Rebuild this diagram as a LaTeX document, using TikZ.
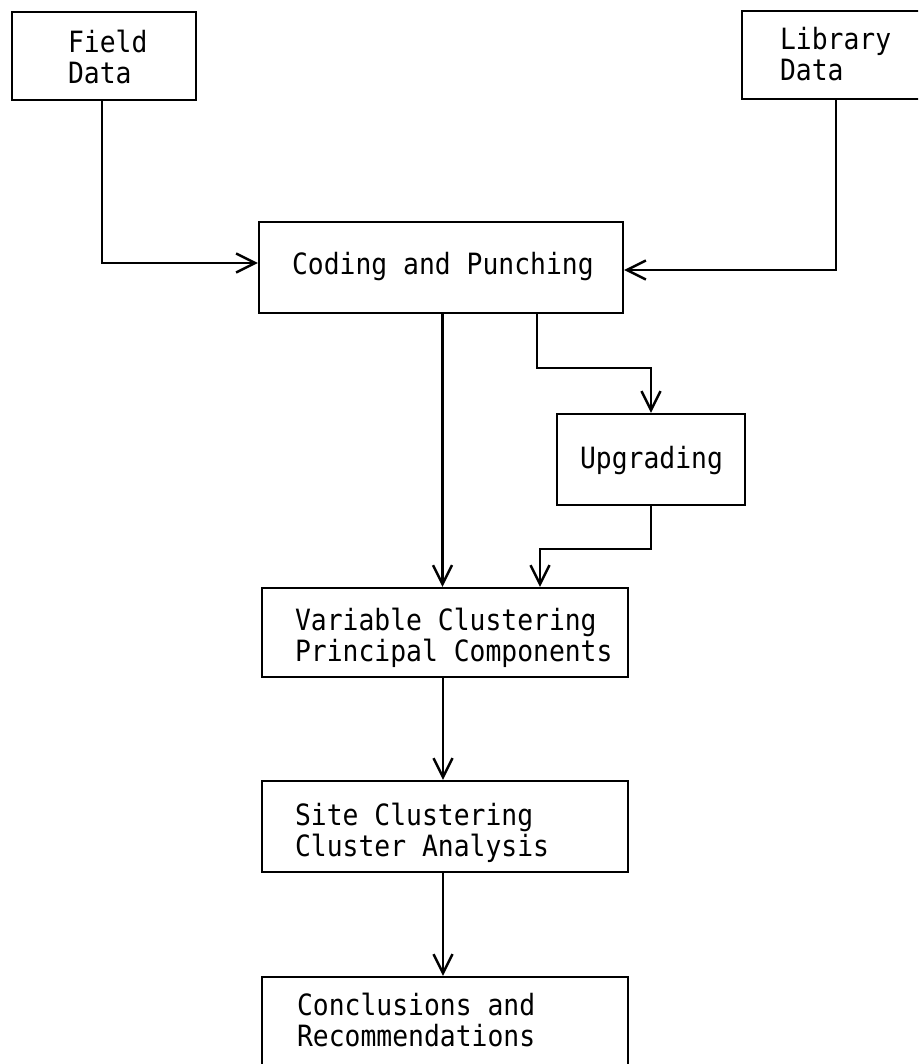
\documentclass[tikz,border=0pt]{standalone}
\usepackage{fontspec}
\newfontfamily\twfont[FakeStretch=0.9]{DejaVu Sans Mono}
\usetikzlibrary{arrows.meta}
\newcommand\boxtext[3]{\raisebox{#2}[0pt][0pt]{\makebox[0pt][l]{\hspace*{#1}\begin{tabular}[t]{@{}l@{}}#3\end{tabular}}}}
\tikzset{
  box/.style={draw, rectangle, line width=2.4pt, inner sep=0pt,
    font=\twfont\fontsize{29.3}{30}\selectfont},
  conn/.style={line width=2.4pt, -{Straight Barb[length=19pt,width=19pt]}}
}
\begin{document}
\begin{tikzpicture}[x=1pt,y=-1pt]
\fill[white] (0,0) rectangle (918,1064);
\useasboundingbox (0,0) rectangle (918,1064);
\clip (0,0) rectangle (918,1064);

\node[box, minimum width=184pt, minimum height=88pt] (field) at (104,56)
  {\boxtext{-36pt}{3pt}{Field\\Data}};
\node[box, minimum width=193pt, minimum height=88pt] (lib) at (838.5,55)
  {\boxtext{-58.5pt}{5pt}{Library\\Data}};
\node[box, minimum width=364pt, minimum height=91pt] (coding) at (441,267.5)
  {\boxtext{-149pt}{-7.5pt}{Coding and Punching}};
\node[box, minimum width=188pt, minimum height=91pt] (upg) at (651,459.5)
  {\boxtext{-71pt}{-8.5pt}{Upgrading}};
\node[box, minimum width=366pt, minimum height=89pt] (var) at (445,632.5)
  {\boxtext{-150pt}{2.5pt}{Variable Clustering\\Principal Components}};
\node[box, minimum width=366pt, minimum height=91pt] (site) at (445,826.5)
  {\boxtext{-150pt}{1.5pt}{Site Clustering\\Cluster Analysis}};
\node[box, minimum width=366pt, minimum height=91pt] (concl) at (445,1022.5)
  {\boxtext{-148pt}{7.5pt}{Conclusions and\\Recommendations}};

\draw[conn] ([xshift=-2pt]field.south) |- ([yshift=4.5pt]coding.west);
\draw[conn] ([xshift=-2.5pt]lib.south) |- ([yshift=-2.5pt]coding.east);
\draw[conn] ([xshift=1.5pt]coding.south) -- ([xshift=1.5pt]coding.south |- var.north);
\draw[conn] ([xshift=96pt]coding.south) -- ++(0,54) -| (upg.north);
\draw[conn] (upg.south) -- ++(0,43) -| ([xshift=95pt]var.north);
\draw[conn] ([xshift=-2pt]var.south) -- ([xshift=-2pt]site.north);
\draw[conn] ([xshift=-2pt]site.south) -- ([xshift=-2pt]concl.north);
\end{tikzpicture}
\end{document}
